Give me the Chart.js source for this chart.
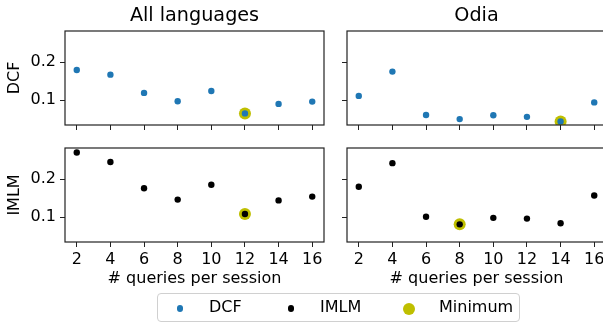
<!DOCTYPE html>
<html>
<head>
<meta charset="utf-8">
<script src="https://cdn.jsdelivr.net/npm/chart.js@4/dist/chart.umd.min.js"></script>
<style>
  html, body { margin: 0; padding: 0; background: #fff; width: 603px; height: 322px; overflow: hidden; }
  #wrap { position: relative; width: 603px; height: 322px; overflow: hidden; font-family: "DejaVu Sans", sans-serif; }
  canvas { position: absolute; left: 0; top: 0; pointer-events: none; }
  #legend { position: absolute; left: 157px; top: 293px; width: 363px; height: 29px; box-sizing: border-box;
            border: 1px solid #d0d0d0; border-radius: 4px; background: rgba(255,255,255,0.8); }
  .dot { position: absolute; border-radius: 50%; }
  .lt { position: absolute; font-size: 16px; line-height: 20px; color: #000; white-space: nowrap; }
</style>
</head>
<body>
<div id="wrap">
  <canvas id="c1" width="620" height="322"></canvas>
  <canvas id="c2" width="620" height="322"></canvas>
  <canvas id="c3" width="620" height="322"></canvas>
  <canvas id="c4" width="620" height="322"></canvas>
  <div id="legend"></div>
</div>
<script>
// ---- data ----
const queries = [2, 4, 6, 8, 10, 12, 14, 16];
const allDCF   = [0.179, 0.167, 0.119, 0.097, 0.124, 0.065, 0.090, 0.096];
const odiaDCF  = [0.111, 0.175, 0.061, 0.050, 0.060, 0.056, 0.044, 0.094];
const allIMLM  = [0.270, 0.245, 0.176, 0.146, 0.185, 0.108, 0.144, 0.154];
const odiaIMLM = [0.180, 0.242, 0.101, 0.081, 0.098, 0.096, 0.084, 0.157];
const xTicks = [2, 4, 6, 8, 10, 12, 14, 16];
const yTicks = [0.1, 0.2];
const panelTitles = ["All languages", "Odia"];
const rowLabels = ["DCF", "IMLM"];
const xLabel = "# queries per session";
const legendLabels = ["DCF", "IMLM", "Minimum"];

// ---- styling ----
const COL_DCF = "#1f77b4", COL_IMLM = "#000000", COL_MIN = "#bfbf00";
const X_MIN = 1.3, X_MAX = 16.7, Y_MIN = 0.0345, Y_MAX = 0.2818;
Chart.defaults.font.family = "'DejaVu Sans', sans-serif";
Chart.defaults.font.size = 16;
Chart.defaults.color = "#000";

const framePlugin = {
  id: "frame",
  afterDraw(chart) {
    const a = chart.chartArea, ctx = chart.ctx;
    ctx.save();
    ctx.strokeStyle = "#222";
    ctx.lineWidth = 1.2;
    ctx.strokeRect(a.left, a.top, a.right - a.left, a.bottom - a.top);
    ctx.restore();
  }
};

function argmin(arr) { let k = 0; arr.forEach((v, i) => { if (v < arr[k]) k = i; }); return k; }

function makePanel(id, values, color, opts) {
  const pts = queries.map((q, i) => ({ x: q, y: values[i] }));
  const k = argmin(values);
  const minPt = [{ x: queries[k], y: values[k] }];
  const cfg = {
    type: "scatter",
    data: {
      datasets: [
        { data: pts, pointRadius: 3.2, pointHoverRadius: 3.2, pointBackgroundColor: color, pointBorderWidth: 0, showLine: false },
        { data: minPt, pointRadius: 6, pointHoverRadius: 6, pointBackgroundColor: COL_MIN, pointBorderWidth: 0, showLine: false }
      ]
    },
    options: {
      responsive: false,
      animation: false,
      events: [],
      layout: { padding: opts.padding },
      plugins: {
        legend: { display: false },
        tooltip: { enabled: false },
        title: opts.title ? {
          display: true, text: opts.title, fullSize: false, color: "#000",
          font: { size: 19.2, weight: "normal" }, padding: { top: 4.5, bottom: 3.46 }
        } : { display: false }
      },
      scales: {
        x: {
          type: "linear", min: X_MIN, max: X_MAX,
          afterBuildTicks: s => { s.ticks = xTicks.map(v => ({ value: v })); },
          afterFit: s => { s.height = opts.xHeight; },
          ticks: { display: opts.xLabels, padding: 3, maxRotation: 0, autoSkip: false, color: "#000" },
          grid: { display: true, drawOnChartArea: false, drawTicks: true, tickLength: 5, tickWidth: 1, tickColor: "#222" },
          border: { display: false },
          title: opts.xLabels ? { display: true, text: xLabel, color: "#000", font: { size: 16 }, padding: { top: 0, bottom: 33.2 } } : { display: false }
        },
        y: {
          type: "linear", min: Y_MIN, max: Y_MAX,
          afterBuildTicks: s => { s.ticks = yTicks.map(v => ({ value: v })); },
          afterFit: s => { s.width = opts.yWidth; },
          ticks: { display: !!opts.yTitle, padding: 4, color: "#000", callback: v => String(v) },
          grid: { display: true, drawOnChartArea: false, drawTicks: true, tickLength: 5, tickWidth: 1, tickColor: "#222" },
          border: { display: false },
          title: opts.yTitle ? { display: true, text: opts.yTitle, color: "#000", font: { size: 16 }, padding: { top: 5.4, bottom: 0 } } : { display: false }
        }
      }
    },
    plugins: [framePlugin]
  };
  return new Chart(document.getElementById(id), cfg);
}

// top-left: All languages / DCF
makePanel("c1", allDCF, COL_DCF, {
  padding: { left: 0, top: 0, right: 620 - 324, bottom: 322 - 125 - 10 },
  title: panelTitles[0], yTitle: rowLabels[0], xLabels: false, xHeight: 10, yWidth: 65
});
// top-right: Odia / DCF
makePanel("c2", odiaDCF, COL_DCF, {
  padding: { left: 337, top: 0, right: 620 - 606, bottom: 322 - 125 - 10 },
  title: panelTitles[1], yTitle: null, xLabels: false, xHeight: 10, yWidth: 10
});
// bottom-left: All languages / IMLM
makePanel("c3", allIMLM, COL_IMLM, {
  padding: { left: 0, top: 148, right: 620 - 324, bottom: 0 },
  title: null, yTitle: rowLabels[1], xLabels: true, xHeight: 80, yWidth: 65
});
// bottom-right: Odia / IMLM
makePanel("c4", odiaIMLM, COL_IMLM, {
  padding: { left: 337, top: 148, right: 620 - 606, bottom: 0 },
  title: null, yTitle: null, xLabels: true, xHeight: 80, yWidth: 10
});

// ---- legend (HTML) ----
const legend = document.getElementById("legend");
const legendItems = [
  { label: legendLabels[0], color: COL_DCF, r: 3.2, dotX: 180, textX: 209 },
  { label: legendLabels[1], color: COL_IMLM, r: 3.2, dotX: 291, textX: 320 },
  { label: legendLabels[2], color: COL_MIN, r: 6, dotX: 409, textX: 439 }
];
legendItems.forEach(it => {
  const d = document.createElement("div");
  d.className = "dot";
  d.style.width = d.style.height = (2 * it.r) + "px";
  d.style.background = it.color;
  d.style.left = (it.dotX - 157 - 1 - it.r) + "px";
  d.style.top = (308.5 - 293 - 1 - it.r) + "px";
  legend.appendChild(d);
  const t = document.createElement("div");
  t.className = "lt";
  t.textContent = it.label;
  t.style.left = (it.textX - 157 - 1) + "px";
  t.style.top = "2.75px";
  legend.appendChild(t);
});
</script>
</body>
</html>
